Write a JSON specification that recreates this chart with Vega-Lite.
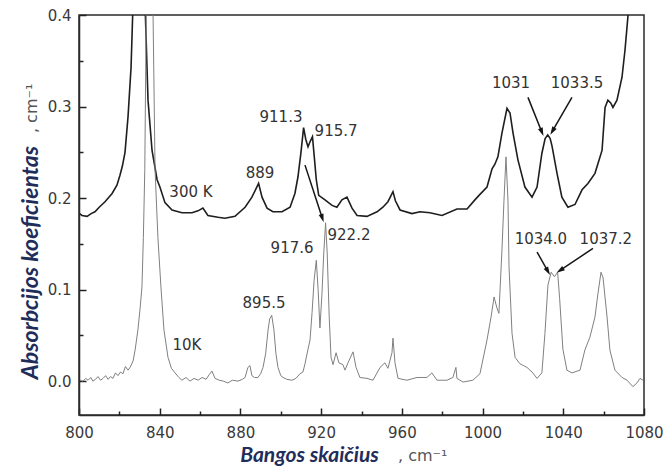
{
  "$schema": "https://vega.github.io/schema/vega-lite/v6.json",
  "width": 565,
  "height": 400,
  "autosize": {"type": "none"},
  "padding": {"left": 79, "top": 15, "right": 21, "bottom": 51},
  "background": "white",
  "config": {
    "view": {"stroke": "#2b2b2b", "strokeWidth": 1.5},
    "axis": {
      "grid": false,
      "zindex": 1,
      "domainColor": "#2b2b2b",
      "domainWidth": 1.5,
      "tickColor": "#222222",
      "tickWidth": 1.5,
      "labelFont": "DejaVu Sans",
      "labelFontSize": 15,
      "labelColor": "#3a3a3a",
      "titleFont": "Lato",
      "titleFontStyle": "italic",
      "titleFontWeight": "bold",
      "titleFontSize": 23,
      "titleColor": "#1f2d5a"
    }
  },
  "datasets": {
    "spectra": [
      {"s": "300K", "x": 800.3, "y": 0.183}, {"s": "300K", "x": 801.5, "y": 0.181}, {"s": "300K", "x": 804, "y": 0.18},
      {"s": "300K", "x": 806, "y": 0.183}, {"s": "300K", "x": 807.9, "y": 0.185}, {"s": "300K", "x": 810, "y": 0.19},
      {"s": "300K", "x": 812.9, "y": 0.196}, {"s": "300K", "x": 816.4, "y": 0.205}, {"s": "300K", "x": 818.8, "y": 0.214},
      {"s": "300K", "x": 820.3, "y": 0.225}, {"s": "300K", "x": 821.5, "y": 0.235}, {"s": "300K", "x": 822.8, "y": 0.25},
      {"s": "300K", "x": 824.3, "y": 0.289}, {"s": "300K", "x": 825.8, "y": 0.343}, {"s": "300K", "x": 826.6, "y": 0.4},
      {"s": "300K", "x": 828, "y": 0.52}, {"s": "300K", "x": 829.6, "y": 0.6}, {"s": "300K", "x": 831.3, "y": 0.52},
      {"s": "300K", "x": 832.9, "y": 0.4}, {"s": "300K", "x": 834.2, "y": 0.307}, {"s": "300K", "x": 836.2, "y": 0.252},
      {"s": "300K", "x": 838.7, "y": 0.22}, {"s": "300K", "x": 840.1, "y": 0.212}, {"s": "300K", "x": 842.6, "y": 0.195},
      {"s": "300K", "x": 846.1, "y": 0.187}, {"s": "300K", "x": 851, "y": 0.184}, {"s": "300K", "x": 856, "y": 0.184},
      {"s": "300K", "x": 859, "y": 0.186}, {"s": "300K", "x": 861.4, "y": 0.189}, {"s": "300K", "x": 863.9, "y": 0.181},
      {"s": "300K", "x": 868.9, "y": 0.179}, {"s": "300K", "x": 872.3, "y": 0.178}, {"s": "300K", "x": 877.3, "y": 0.18},
      {"s": "300K", "x": 882.3, "y": 0.19}, {"s": "300K", "x": 885.7, "y": 0.201}, {"s": "300K", "x": 889, "y": 0.216},
      {"s": "300K", "x": 890.7, "y": 0.201}, {"s": "300K", "x": 893.2, "y": 0.189}, {"s": "300K", "x": 896.1, "y": 0.185},
      {"s": "300K", "x": 900.6, "y": 0.185}, {"s": "300K", "x": 904.6, "y": 0.19}, {"s": "300K", "x": 907, "y": 0.205},
      {"s": "300K", "x": 908.5, "y": 0.223}, {"s": "300K", "x": 910, "y": 0.25}, {"s": "300K", "x": 911.3, "y": 0.277},
      {"s": "300K", "x": 912.4, "y": 0.264}, {"s": "300K", "x": 913.5, "y": 0.256}, {"s": "300K", "x": 914.6, "y": 0.262},
      {"s": "300K", "x": 915.7, "y": 0.267}, {"s": "300K", "x": 916.6, "y": 0.245}, {"s": "300K", "x": 917.6, "y": 0.22},
      {"s": "300K", "x": 918.8, "y": 0.203}, {"s": "300K", "x": 921.9, "y": 0.198}, {"s": "300K", "x": 925.4, "y": 0.192},
      {"s": "300K", "x": 927.8, "y": 0.19}, {"s": "300K", "x": 930.3, "y": 0.198}, {"s": "300K", "x": 932.8, "y": 0.201},
      {"s": "300K", "x": 935.3, "y": 0.189}, {"s": "300K", "x": 937.8, "y": 0.181}, {"s": "300K", "x": 942.7, "y": 0.18},
      {"s": "300K", "x": 947.7, "y": 0.185}, {"s": "300K", "x": 950.6, "y": 0.19}, {"s": "300K", "x": 953.1, "y": 0.196},
      {"s": "300K", "x": 955.6, "y": 0.207}, {"s": "300K", "x": 956.8, "y": 0.197}, {"s": "300K", "x": 959.1, "y": 0.187},
      {"s": "300K", "x": 965, "y": 0.183}, {"s": "300K", "x": 969, "y": 0.185}, {"s": "300K", "x": 973.9, "y": 0.184},
      {"s": "300K", "x": 979.9, "y": 0.181}, {"s": "300K", "x": 987.3, "y": 0.188}, {"s": "300K", "x": 992.3, "y": 0.188},
      {"s": "300K", "x": 996.2, "y": 0.198}, {"s": "300K", "x": 998.7, "y": 0.204}, {"s": "300K", "x": 1002.2, "y": 0.212},
      {"s": "300K", "x": 1004.7, "y": 0.232}, {"s": "300K", "x": 1006.1, "y": 0.237}, {"s": "300K", "x": 1007.6, "y": 0.245},
      {"s": "300K", "x": 1009.6, "y": 0.271}, {"s": "300K", "x": 1012.1, "y": 0.298}, {"s": "300K", "x": 1013.6, "y": 0.293},
      {"s": "300K", "x": 1015.1, "y": 0.271}, {"s": "300K", "x": 1017.5, "y": 0.242}, {"s": "300K", "x": 1021, "y": 0.212},
      {"s": "300K", "x": 1024.5, "y": 0.201}, {"s": "300K", "x": 1027, "y": 0.212}, {"s": "300K", "x": 1029.4, "y": 0.249},
      {"s": "300K", "x": 1031, "y": 0.265}, {"s": "300K", "x": 1032.3, "y": 0.269}, {"s": "300K", "x": 1033.5, "y": 0.265},
      {"s": "300K", "x": 1034.4, "y": 0.257}, {"s": "300K", "x": 1036.9, "y": 0.227}, {"s": "300K", "x": 1039.3, "y": 0.201},
      {"s": "300K", "x": 1042.3, "y": 0.19}, {"s": "300K", "x": 1045.8, "y": 0.193}, {"s": "300K", "x": 1049.3, "y": 0.209},
      {"s": "300K", "x": 1052.2, "y": 0.216}, {"s": "300K", "x": 1055.7, "y": 0.227}, {"s": "300K", "x": 1059.2, "y": 0.252},
      {"s": "300K", "x": 1060.7, "y": 0.299}, {"s": "300K", "x": 1062.1, "y": 0.307}, {"s": "300K", "x": 1063.5, "y": 0.304},
      {"s": "300K", "x": 1064.6, "y": 0.299}, {"s": "300K", "x": 1066.6, "y": 0.307}, {"s": "300K", "x": 1069.1, "y": 0.332},
      {"s": "300K", "x": 1070.6, "y": 0.362}, {"s": "300K", "x": 1072.1, "y": 0.4}, {"s": "300K", "x": 1074, "y": 0.45},
      {"s": "300K", "x": 1076, "y": 0.5},

      {"s": "10K", "x": 800.5, "y": 0.001}, {"s": "10K", "x": 802, "y": 0.0}, {"s": "10K", "x": 803.3, "y": 0.003},
      {"s": "10K", "x": 804.5, "y": 0.001}, {"s": "10K", "x": 805.8, "y": 0.004}, {"s": "10K", "x": 806.9, "y": 0.0},
      {"s": "10K", "x": 808.2, "y": 0.002}, {"s": "10K", "x": 809.4, "y": 0.005}, {"s": "10K", "x": 810.7, "y": 0.001},
      {"s": "10K", "x": 811.9, "y": 0.003}, {"s": "10K", "x": 813.2, "y": 0.006}, {"s": "10K", "x": 814.4, "y": 0.002},
      {"s": "10K", "x": 815.6, "y": 0.005}, {"s": "10K", "x": 816.8, "y": 0.003}, {"s": "10K", "x": 818.1, "y": 0.009},
      {"s": "10K", "x": 819.3, "y": 0.006}, {"s": "10K", "x": 820.6, "y": 0.01}, {"s": "10K", "x": 821.8, "y": 0.008},
      {"s": "10K", "x": 823, "y": 0.016}, {"s": "10K", "x": 824.3, "y": 0.012}, {"s": "10K", "x": 825.3, "y": 0.015},
      {"s": "10K", "x": 826.8, "y": 0.022}, {"s": "10K", "x": 827.8, "y": 0.034}, {"s": "10K", "x": 829.2, "y": 0.056},
      {"s": "10K", "x": 830.3, "y": 0.08}, {"s": "10K", "x": 831.2, "y": 0.103}, {"s": "10K", "x": 831.9, "y": 0.157},
      {"s": "10K", "x": 832.6, "y": 0.231}, {"s": "10K", "x": 833.3, "y": 0.4}, {"s": "10K", "x": 834.2, "y": 0.7},
      {"s": "10K", "x": 835, "y": 0.85}, {"s": "10K", "x": 835.8, "y": 0.7}, {"s": "10K", "x": 836.7, "y": 0.4},
      {"s": "10K", "x": 837.7, "y": 0.231}, {"s": "10K", "x": 839.1, "y": 0.157}, {"s": "10K", "x": 840.6, "y": 0.103},
      {"s": "10K", "x": 842.1, "y": 0.056}, {"s": "10K", "x": 844.1, "y": 0.026}, {"s": "10K", "x": 845.8, "y": 0.014},
      {"s": "10K", "x": 847.6, "y": 0.009}, {"s": "10K", "x": 849.5, "y": 0.004}, {"s": "10K", "x": 851, "y": 0.001},
      {"s": "10K", "x": 853, "y": 0.004}, {"s": "10K", "x": 855, "y": 0.0}, {"s": "10K", "x": 857, "y": 0.003},
      {"s": "10K", "x": 859, "y": 0.001}, {"s": "10K", "x": 861, "y": 0.004}, {"s": "10K", "x": 863, "y": 0.002},
      {"s": "10K", "x": 864.5, "y": 0.007}, {"s": "10K", "x": 865.9, "y": 0.011}, {"s": "10K", "x": 867.4, "y": 0.003},
      {"s": "10K", "x": 869.5, "y": 0.001}, {"s": "10K", "x": 871.5, "y": 0.0}, {"s": "10K", "x": 873.8, "y": -0.002},
      {"s": "10K", "x": 876, "y": 0.001}, {"s": "10K", "x": 878.8, "y": 0.0}, {"s": "10K", "x": 881, "y": 0.002},
      {"s": "10K", "x": 882.3, "y": 0.004}, {"s": "10K", "x": 883.7, "y": 0.015}, {"s": "10K", "x": 884.7, "y": 0.017},
      {"s": "10K", "x": 885.7, "y": 0.006}, {"s": "10K", "x": 887, "y": 0.004}, {"s": "10K", "x": 888.7, "y": 0.004},
      {"s": "10K", "x": 890, "y": 0.008}, {"s": "10K", "x": 891.2, "y": 0.015}, {"s": "10K", "x": 892.5, "y": 0.03},
      {"s": "10K", "x": 893.7, "y": 0.056}, {"s": "10K", "x": 894.5, "y": 0.068}, {"s": "10K", "x": 895.5, "y": 0.072},
      {"s": "10K", "x": 896.6, "y": 0.056}, {"s": "10K", "x": 897.6, "y": 0.03}, {"s": "10K", "x": 898.6, "y": 0.015},
      {"s": "10K", "x": 900, "y": 0.006}, {"s": "10K", "x": 901.1, "y": 0.004}, {"s": "10K", "x": 903, "y": 0.002},
      {"s": "10K", "x": 905.5, "y": 0.001}, {"s": "10K", "x": 907.5, "y": 0.003}, {"s": "10K", "x": 909.5, "y": 0.008},
      {"s": "10K", "x": 911, "y": 0.01}, {"s": "10K", "x": 912, "y": 0.019}, {"s": "10K", "x": 913.5, "y": 0.035},
      {"s": "10K", "x": 914.5, "y": 0.045}, {"s": "10K", "x": 915.5, "y": 0.075}, {"s": "10K", "x": 916.5, "y": 0.11},
      {"s": "10K", "x": 917.6, "y": 0.132}, {"s": "10K", "x": 918.5, "y": 0.1}, {"s": "10K", "x": 919.4, "y": 0.058},
      {"s": "10K", "x": 920.4, "y": 0.095}, {"s": "10K", "x": 921.3, "y": 0.14}, {"s": "10K", "x": 922.2, "y": 0.173},
      {"s": "10K", "x": 923, "y": 0.14}, {"s": "10K", "x": 924, "y": 0.07}, {"s": "10K", "x": 924.9, "y": 0.026},
      {"s": "10K", "x": 925.9, "y": 0.018}, {"s": "10K", "x": 927.4, "y": 0.031}, {"s": "10K", "x": 928.8, "y": 0.02},
      {"s": "10K", "x": 930.8, "y": 0.018}, {"s": "10K", "x": 931.8, "y": 0.012}, {"s": "10K", "x": 933.3, "y": 0.02},
      {"s": "10K", "x": 935.8, "y": 0.032}, {"s": "10K", "x": 937.3, "y": 0.015}, {"s": "10K", "x": 939.2, "y": 0.004},
      {"s": "10K", "x": 942.7, "y": 0.003}, {"s": "10K", "x": 945.7, "y": 0.001}, {"s": "10K", "x": 949.2, "y": 0.015},
      {"s": "10K", "x": 951.6, "y": 0.02}, {"s": "10K", "x": 953.1, "y": 0.014}, {"s": "10K", "x": 955.1, "y": 0.031},
      {"s": "10K", "x": 955.6, "y": 0.047}, {"s": "10K", "x": 956.6, "y": 0.02}, {"s": "10K", "x": 958.1, "y": 0.003},
      {"s": "10K", "x": 962.5, "y": 0.001}, {"s": "10K", "x": 967.5, "y": 0.004}, {"s": "10K", "x": 972.4, "y": 0.004},
      {"s": "10K", "x": 974.9, "y": 0.009}, {"s": "10K", "x": 977.4, "y": 0.001}, {"s": "10K", "x": 982.4, "y": 0.001},
      {"s": "10K", "x": 985.3, "y": 0.004}, {"s": "10K", "x": 986.8, "y": 0.015}, {"s": "10K", "x": 987.3, "y": 0.003},
      {"s": "10K", "x": 990.3, "y": -0.001}, {"s": "10K", "x": 995.2, "y": 0.001}, {"s": "10K", "x": 998.7, "y": 0.008},
      {"s": "10K", "x": 1002.2, "y": 0.045}, {"s": "10K", "x": 1004.2, "y": 0.07}, {"s": "10K", "x": 1005.7, "y": 0.092},
      {"s": "10K", "x": 1007.1, "y": 0.08}, {"s": "10K", "x": 1008.1, "y": 0.074}, {"s": "10K", "x": 1009.6, "y": 0.143},
      {"s": "10K", "x": 1010.6, "y": 0.197}, {"s": "10K", "x": 1011.6, "y": 0.245}, {"s": "10K", "x": 1012.6, "y": 0.197},
      {"s": "10K", "x": 1013.1, "y": 0.125}, {"s": "10K", "x": 1014.6, "y": 0.052}, {"s": "10K", "x": 1016.1, "y": 0.026},
      {"s": "10K", "x": 1018.5, "y": 0.019}, {"s": "10K", "x": 1022, "y": 0.015}, {"s": "10K", "x": 1024.5, "y": 0.01},
      {"s": "10K", "x": 1027, "y": 0.003}, {"s": "10K", "x": 1029.4, "y": 0.009}, {"s": "10K", "x": 1030.9, "y": 0.052},
      {"s": "10K", "x": 1032.4, "y": 0.105}, {"s": "10K", "x": 1034, "y": 0.119}, {"s": "10K", "x": 1035.6, "y": 0.114},
      {"s": "10K", "x": 1037.2, "y": 0.119}, {"s": "10K", "x": 1038.2, "y": 0.09}, {"s": "10K", "x": 1039.8, "y": 0.035},
      {"s": "10K", "x": 1041.8, "y": 0.012}, {"s": "10K", "x": 1044.3, "y": 0.009}, {"s": "10K", "x": 1048.3, "y": 0.012},
      {"s": "10K", "x": 1050.7, "y": 0.034}, {"s": "10K", "x": 1053.2, "y": 0.048}, {"s": "10K", "x": 1055.7, "y": 0.07},
      {"s": "10K", "x": 1057.2, "y": 0.096}, {"s": "10K", "x": 1058.7, "y": 0.119}, {"s": "10K", "x": 1059.7, "y": 0.113},
      {"s": "10K", "x": 1061.7, "y": 0.07}, {"s": "10K", "x": 1063.1, "y": 0.034}, {"s": "10K", "x": 1065.6, "y": 0.012},
      {"s": "10K", "x": 1069.1, "y": 0.004}, {"s": "10K", "x": 1071.6, "y": 0.001}, {"s": "10K", "x": 1074.5, "y": -0.006},
      {"s": "10K", "x": 1076.5, "y": -0.002}, {"s": "10K", "x": 1078, "y": 0.003}, {"s": "10K", "x": 1079.5, "y": 0.001}
    ],
    "notes": [
      {"x": 855.5, "y": 0.2066, "t": "300 K"},
      {"x": 853.5, "y": 0.039, "t": "10K"},
      {"x": 889.7, "y": 0.227, "t": "889"},
      {"x": 900.1, "y": 0.289, "t": "911.3"},
      {"x": 927.4, "y": 0.273, "t": "915.7"},
      {"x": 933.8, "y": 0.16, "t": "922.2"},
      {"x": 905.6, "y": 0.145, "t": "917.6"},
      {"x": 891.7, "y": 0.085, "t": "895.5"},
      {"x": 1014.1, "y": 0.326, "t": "1031"},
      {"x": 1046.8, "y": 0.326, "t": "1033.5"},
      {"x": 1028.9, "y": 0.155, "t": "1034.0"},
      {"x": 1061.1, "y": 0.155, "t": "1037.2"}
    ],
    "arrows": [
      {"x1": 912.0, "y1": 0.236, "x2": 920.6, "y2": 0.178},
      {"x1": 1022.5, "y1": 0.31, "x2": 1029.4, "y2": 0.272},
      {"x1": 1044.3, "y1": 0.31, "x2": 1034.6, "y2": 0.273},
      {"x1": 1027.0, "y1": 0.141, "x2": 1032.4, "y2": 0.12},
      {"x1": 1054.7, "y1": 0.145, "x2": 1038.4, "y2": 0.121}
    ]
  },
  "layer": [
    {
      "data": {"name": "spectra"},
      "mark": {"type": "line", "clip": true},
      "encoding": {
        "x": {
          "field": "x", "type": "quantitative",
          "scale": {"domain": [800, 1080], "nice": false, "zero": false},
          "axis": {
            "orient": "bottom",
            "values": [800, 840, 880, 920, 960, 1000, 1040, 1080],
            "format": "d",
            "tickSize": -7,
            "labelPadding": 17,
            "labelFlush": false,
            "labelOverlap": false,
            "title": "Bangos skaičius",
            "titleFontSize": 21,
            "titleAnchor": "start",
            "titleX": 230,
            "titleY": 46,
            "titleAlign": "center",
            "titleBaseline": "alphabetic"
          }
        },
        "y": {
          "field": "y", "type": "quantitative",
          "scale": {"domain": [-0.037, 0.4], "nice": false, "zero": false},
          "axis": {
            "orient": "left",
            "values": [0, 0.1, 0.2, 0.3, 0.4],
            "format": ".1f",
            "tickSize": -7,
            "labelPadding": 15,
            "labelOverlap": false,
            "title": "Absorbcijos koeficientas",
            "titleAnchor": "start",
            "titleAngle": 270,
            "titleX": -42,
            "titleY": 247,
            "titleAlign": "center",
            "titleBaseline": "alphabetic"
          }
        },
        "color": {
          "field": "s", "type": "nominal",
          "scale": {"domain": ["300K", "10K"], "range": ["#1e1e1e", "#808080"]},
          "legend": null
        },
        "strokeWidth": {
          "field": "s", "type": "nominal",
          "scale": {"domain": ["300K", "10K"], "range": [1.6, 1]},
          "legend": null
        }
      }
    },
    {
      "data": {"name": "notes"},
      "mark": {"type": "text", "font": "DejaVu Sans", "fontSize": 15, "color": "#333333", "align": "center", "baseline": "middle"},
      "encoding": {
        "x": {
          "field": "x", "type": "quantitative",
          "axis": {"orient": "top", "offset": -400, "values": [820, 860, 900, 940, 980, 1020, 1060], "tickSize": 4, "labels": false, "domain": false, "title": null}
        },
        "y": {
          "field": "y", "type": "quantitative",
          "axis": {"orient": "right", "offset": -565, "values": [0.05, 0.15, 0.25, 0.35], "tickSize": 4, "labels": false, "domain": false, "title": null}
        },
        "text": {"field": "t"}
      }
    },
    {
      "data": {"name": "arrows"},
      "mark": {"type": "rule", "color": "#151515", "strokeWidth": 1.5},
      "encoding": {
        "x": {"field": "x1", "type": "quantitative", "axis": null},
        "y": {"field": "y1", "type": "quantitative", "axis": null},
        "x2": {"field": "x2"},
        "y2": {"field": "y2"}
      }
    },
    {
      "data": {"name": "arrows"},
      "transform": [
        {"calculate": "atan2((datum.x2 - datum.x1) * 2.018, (datum.y2 - datum.y1) * 915) * 180 / PI", "as": "heading"}
      ],
      "mark": {"type": "point", "filled": true, "opacity": 1, "color": "#151515", "shape": "M0,-1L0.6,1L-0.6,1Z", "size": 70},
      "encoding": {
        "x": {"field": "x2", "type": "quantitative", "axis": null},
        "y": {"field": "y2", "type": "quantitative", "axis": null},
        "angle": {"field": "heading", "type": "quantitative", "scale": null}
      }
    },
    {
      "data": {"values": [{"x": 958.1, "y": -0.0874, "t": ", cm⁻¹"}]},
      "mark": {"type": "text", "font": "DejaVu Sans", "fontSize": 16, "color": "#555555", "align": "left", "baseline": "alphabetic"},
      "encoding": {
        "x": {"field": "x", "type": "quantitative", "axis": null},
        "y": {"field": "y", "type": "quantitative", "axis": null},
        "text": {"field": "t"}
      }
    },
    {
      "data": {"values": [{"x": 779.2, "y": 0.271, "t": ", cm⁻¹"}]},
      "mark": {"type": "text", "font": "DejaVu Sans", "fontSize": 16, "color": "#555555", "align": "left", "baseline": "alphabetic", "angle": 270},
      "encoding": {
        "x": {"field": "x", "type": "quantitative", "axis": null},
        "y": {"field": "y", "type": "quantitative", "axis": null},
        "text": {"field": "t"}
      }
    }
  ],
  "resolve": {"axis": {"x": "independent", "y": "independent"}}
}
